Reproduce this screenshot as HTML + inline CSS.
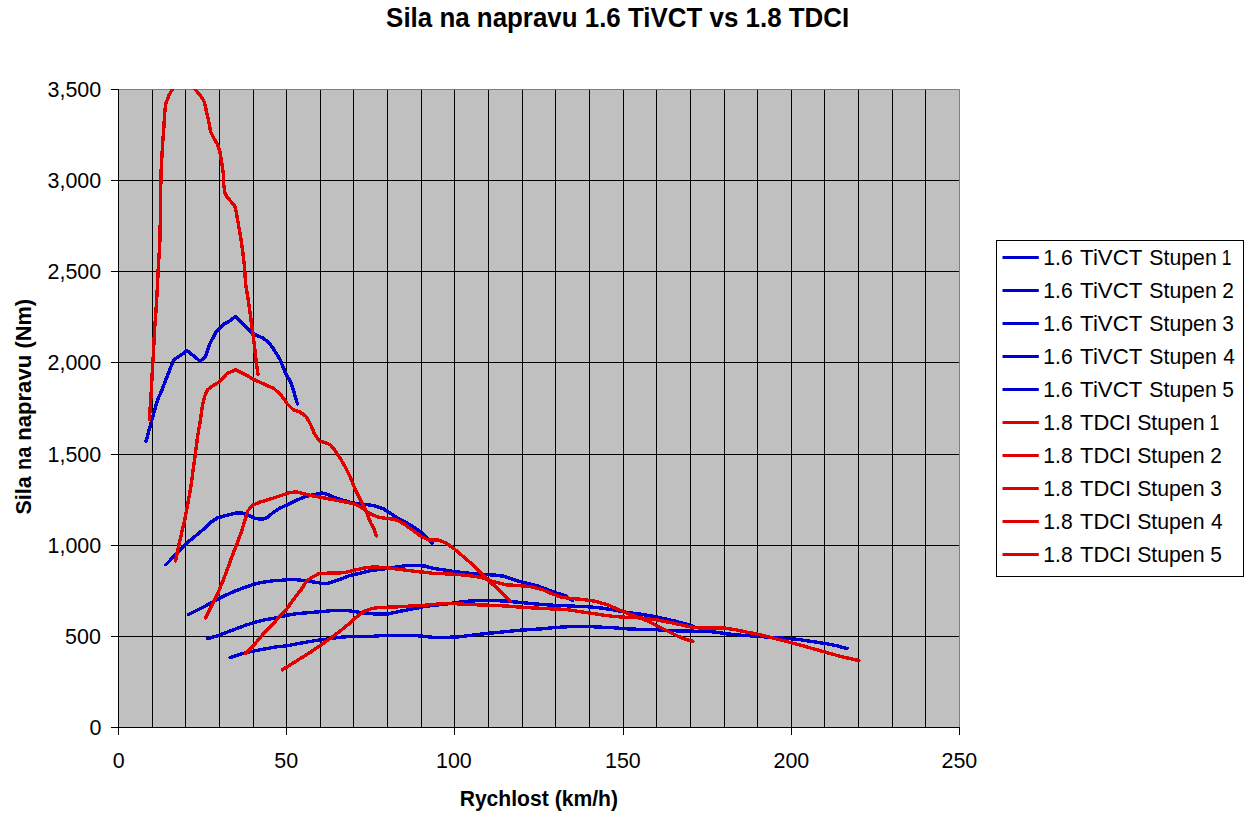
<!DOCTYPE html>
<html><head><meta charset="utf-8"><style>
html,body{margin:0;padding:0;background:#fff;}
svg{display:block;}
text{font-family:"Liberation Sans",Arial,sans-serif;fill:#000;}
</style></head><body>
<svg width="1248" height="813" viewBox="0 0 1248 813">
<rect x="118" y="89" width="841" height="638" fill="#c0c0c0"/>
<path d="M152.5 89V727M185.5 89V727M219.5 89V727M253.5 89V727M286.5 89V727M320.5 89V727M353.5 89V727M387.5 89V727M421.5 89V727M454.5 89V727M488.5 89V727M522.5 89V727M555.5 89V727M589.5 89V727M623.5 89V727M656.5 89V727M690.5 89V727M724.5 89V727M757.5 89V727M791.5 89V727M824.5 89V727M858.5 89V727M892.5 89V727M925.5 89V727M118 636.5H959M118 545.5H959M118 454.5H959M118 362.5H959M118 271.5H959M118 180.5H959" stroke="#000" stroke-width="1" fill="none"/>
<path d="M118 89.5H959.5V727" stroke="#808080" stroke-width="1" fill="none"/>
<path d="M118.5 89V735M111 727.5H960M111 727.5H119M111 636.5H119M111 545.5H119M111 454.5H119M111 362.5H119M111 271.5H119M111 180.5H119M111 89.5H119M118.5 727V735M286.5 727V735M454.5 727V735M623.5 727V735M791.5 727V735M959.5 727V735" stroke="#000" stroke-width="1" fill="none"/>
<text transform="translate(89.48 735) scale(0.9750 1.0)" font-size="22" font-weight="normal">0</text>
<text transform="translate(65.10 644) scale(0.9750 1.0)" font-size="22" font-weight="normal">500</text>
<text transform="translate(47.55 553) scale(0.9750 1.0)" font-size="22" font-weight="normal">1,000</text>
<text transform="translate(47.55 462) scale(0.9750 1.0)" font-size="22" font-weight="normal">1,500</text>
<text transform="translate(47.55 370) scale(0.9750 1.0)" font-size="22" font-weight="normal">2,000</text>
<text transform="translate(47.55 279) scale(0.9750 1.0)" font-size="22" font-weight="normal">2,500</text>
<text transform="translate(47.55 188) scale(0.9750 1.0)" font-size="22" font-weight="normal">3,000</text>
<text transform="translate(47.55 97) scale(0.9750 1.0)" font-size="22" font-weight="normal">3,500</text>
<text transform="translate(112.65 768) scale(0.9750 1.0)" font-size="22" font-weight="normal">0</text>
<text transform="translate(274.31 768) scale(0.9750 1.0)" font-size="22" font-weight="normal">50</text>
<text transform="translate(435.98 768) scale(0.9750 1.0)" font-size="22" font-weight="normal">100</text>
<text transform="translate(604.97 768) scale(0.9750 1.0)" font-size="22" font-weight="normal">150</text>
<text transform="translate(773.46 768) scale(0.9750 1.0)" font-size="22" font-weight="normal">200</text>
<text transform="translate(941.46 768) scale(0.9750 1.0)" font-size="22" font-weight="normal">250</text>
<text transform="translate(386.10 27) scale(0.9970 1.04)" font-size="26" font-weight="bold">Sila na napravu 1.6 TiVCT vs 1.8 TDCI</text>
<text transform="translate(459.64 806) scale(0.9601 1.0)" font-size="22" font-weight="bold">Rychlost (km/h)</text>
<text transform="translate(31 514.48) rotate(-90) scale(0.9789 1)" font-size="22" font-weight="bold">Sila</text>
<text transform="translate(31 469.90) rotate(-90) scale(0.9000 1)" font-size="22" font-weight="bold">na</text>
<text transform="translate(31 440.80) rotate(-90) scale(1.0048 1)" font-size="22" font-weight="bold">napravu</text>
<text transform="translate(31 348.59) rotate(-90) scale(0.9917 1)" font-size="22" font-weight="bold">(Nm)</text>
<rect x="996.5" y="240.5" width="247" height="336" fill="#fff" stroke="#000" stroke-width="1"/>
<path d="M1002.5 257.5H1038.8" stroke="#0000d0" stroke-width="3"/>
<text transform="translate(1043.28 265.0) scale(0.9607 1.0)" font-size="22" font-weight="normal">1.6</text>
<text transform="translate(1080.10 265.0) scale(1.0131 1.0)" font-size="22" font-weight="normal">TiVCT</text>
<text transform="translate(1149.33 265.0) scale(0.9672 1.0)" font-size="22" font-weight="normal">Stupen</text>
<text transform="translate(1221.70 265.0) scale(0.8000 1.0)" font-size="22" font-weight="normal">1</text>
<path d="M1002.5 290.5H1038.8" stroke="#0000d0" stroke-width="3"/>
<text transform="translate(1043.28 298.0) scale(0.9607 1.0)" font-size="22" font-weight="normal">1.6</text>
<text transform="translate(1080.10 298.0) scale(1.0131 1.0)" font-size="22" font-weight="normal">TiVCT</text>
<text transform="translate(1149.33 298.0) scale(0.9672 1.0)" font-size="22" font-weight="normal">Stupen</text>
<text transform="translate(1222.35 298.0) scale(0.9500 1.0)" font-size="22" font-weight="normal">2</text>
<path d="M1002.5 323.5H1038.8" stroke="#0000d0" stroke-width="3"/>
<text transform="translate(1043.28 330.9) scale(0.9607 1.0)" font-size="22" font-weight="normal">1.6</text>
<text transform="translate(1080.10 330.9) scale(1.0131 1.0)" font-size="22" font-weight="normal">TiVCT</text>
<text transform="translate(1149.33 330.9) scale(0.9672 1.0)" font-size="22" font-weight="normal">Stupen</text>
<text transform="translate(1222.35 330.9) scale(0.9500 1.0)" font-size="22" font-weight="normal">3</text>
<path d="M1002.5 356.5H1038.8" stroke="#0000d0" stroke-width="3"/>
<text transform="translate(1043.28 363.9) scale(0.9607 1.0)" font-size="22" font-weight="normal">1.6</text>
<text transform="translate(1080.10 363.9) scale(1.0131 1.0)" font-size="22" font-weight="normal">TiVCT</text>
<text transform="translate(1149.33 363.9) scale(0.9672 1.0)" font-size="22" font-weight="normal">Stupen</text>
<text transform="translate(1223.30 363.9) scale(0.9500 1.0)" font-size="22" font-weight="normal">4</text>
<path d="M1002.5 389.5H1038.8" stroke="#0000d0" stroke-width="3"/>
<text transform="translate(1043.28 396.8) scale(0.9607 1.0)" font-size="22" font-weight="normal">1.6</text>
<text transform="translate(1080.10 396.8) scale(1.0131 1.0)" font-size="22" font-weight="normal">TiVCT</text>
<text transform="translate(1149.33 396.8) scale(0.9672 1.0)" font-size="22" font-weight="normal">Stupen</text>
<text transform="translate(1222.35 396.8) scale(0.9500 1.0)" font-size="22" font-weight="normal">5</text>
<path d="M1002.5 422.5H1038.8" stroke="#e00000" stroke-width="3"/>
<text transform="translate(1043.28 429.8) scale(0.9607 1.0)" font-size="22" font-weight="normal">1.8</text>
<text transform="translate(1080.10 429.8) scale(0.9959 1.0)" font-size="22" font-weight="normal">TDCI</text>
<text transform="translate(1137.13 429.8) scale(0.9672 1.0)" font-size="22" font-weight="normal">Stupen</text>
<text transform="translate(1209.50 429.8) scale(0.8000 1.0)" font-size="22" font-weight="normal">1</text>
<path d="M1002.5 455.5H1038.8" stroke="#e00000" stroke-width="3"/>
<text transform="translate(1043.28 462.8) scale(0.9607 1.0)" font-size="22" font-weight="normal">1.8</text>
<text transform="translate(1080.10 462.8) scale(0.9959 1.0)" font-size="22" font-weight="normal">TDCI</text>
<text transform="translate(1137.13 462.8) scale(0.9672 1.0)" font-size="22" font-weight="normal">Stupen</text>
<text transform="translate(1210.15 462.8) scale(0.9500 1.0)" font-size="22" font-weight="normal">2</text>
<path d="M1002.5 488.5H1038.8" stroke="#e00000" stroke-width="3"/>
<text transform="translate(1043.28 495.7) scale(0.9607 1.0)" font-size="22" font-weight="normal">1.8</text>
<text transform="translate(1080.10 495.7) scale(0.9959 1.0)" font-size="22" font-weight="normal">TDCI</text>
<text transform="translate(1137.13 495.7) scale(0.9672 1.0)" font-size="22" font-weight="normal">Stupen</text>
<text transform="translate(1210.15 495.7) scale(0.9500 1.0)" font-size="22" font-weight="normal">3</text>
<path d="M1002.5 521.5H1038.8" stroke="#e00000" stroke-width="3"/>
<text transform="translate(1043.28 528.7) scale(0.9607 1.0)" font-size="22" font-weight="normal">1.8</text>
<text transform="translate(1080.10 528.7) scale(0.9959 1.0)" font-size="22" font-weight="normal">TDCI</text>
<text transform="translate(1137.13 528.7) scale(0.9672 1.0)" font-size="22" font-weight="normal">Stupen</text>
<text transform="translate(1211.10 528.7) scale(0.9500 1.0)" font-size="22" font-weight="normal">4</text>
<path d="M1002.5 554.5H1038.8" stroke="#e00000" stroke-width="3"/>
<text transform="translate(1043.28 561.6) scale(0.9607 1.0)" font-size="22" font-weight="normal">1.8</text>
<text transform="translate(1080.10 561.6) scale(0.9959 1.0)" font-size="22" font-weight="normal">TDCI</text>
<text transform="translate(1137.13 561.6) scale(0.9672 1.0)" font-size="22" font-weight="normal">Stupen</text>
<text transform="translate(1210.15 561.6) scale(0.9500 1.0)" font-size="22" font-weight="normal">5</text>
<clipPath id="pc"><rect x="118" y="89" width="841" height="638"/></clipPath><g clip-path="url(#pc)">
<path d="M146.0 441.4 L149.7 427.9 L153.4 414.3 L157.7 399.6 L162.0 389.8 L165.7 380.0 L169.3 371.0 L173.6 359.9 L179.2 356.2 L187.2 350.7 L193.9 356.2 L200.1 361.2 L205.0 357.5 L209.9 343.9 L216.1 331.6 L223.4 324.3 L228.4 321.8 L235.7 316.3 L241.9 323.0 L250.5 331.6 L256.6 335.3 L262.8 338.0 L268.8 342.6 L272.5 347.5 L276.0 353.0 L279.9 359.3 L286.1 374.3 L290.4 381.6 L293.4 390.2 L297.4 403.8" stroke="#0000d0" stroke-width="3.4" fill="none" stroke-linejoin="round" stroke-linecap="round" shape-rendering="crispEdges"/>
<path d="M165.9 564.7 L173.0 557.3 L181.6 548.7 L189.0 541.3 L196.4 535.2 L203.8 529.0 L209.9 522.9 L217.3 518.0 L225.9 515.5 L235.7 513.0 L241.9 513.0 L249.3 515.5 L255.4 518.6 L262.8 519.2 L267.7 517.3 L272.6 513.0 L280.0 508.1 L289.8 503.7 L297.1 500.0 L304.5 496.9 L311.9 495.1 L321.7 492.9 L327.9 494.5 L334.0 497.5 L343.9 500.6 L353.7 503.1 L363.5 504.3 L373.4 505.5 L383.2 508.6 L390.6 513.5 L398.0 518.4 L405.3 522.1 L410.2 524.9 L417.6 529.8 L420.0 531.4 L426.1 536.9 L432.3 543.0" stroke="#0000d0" stroke-width="3.4" fill="none" stroke-linejoin="round" stroke-linecap="round" shape-rendering="crispEdges"/>
<path d="M188.4 614.6 L196.4 610.5 L206.2 605.6 L216.1 600.0 L225.9 595.1 L235.7 590.8 L245.6 587.1 L254.2 584.1 L262.8 582.2 L271.4 581.0 L278.0 580.2 L282.4 580.2 L291.0 579.3 L299.6 580.0 L307.0 581.1 L314.3 582.1 L321.7 583.3 L327.9 583.3 L334.0 581.5 L341.4 578.8 L348.8 575.9 L356.1 574.1 L363.5 572.3 L372.1 570.4 L382.0 569.2 L390.6 568.0 L398.0 566.7 L405.3 565.7 L413.9 565.2 L420.1 565.7 L425.0 566.1 L432.3 568.2 L444.6 570.1 L456.9 571.9 L469.2 573.2 L481.5 574.4 L493.8 575.0 L503.6 576.2 L511.0 578.7 L518.4 581.2 L528.2 583.6 L538.0 586.1 L547.9 589.8 L557.7 593.4 L565.0 595.5 L572.4 600.7" stroke="#0000d0" stroke-width="3.4" fill="none" stroke-linejoin="round" stroke-linecap="round" shape-rendering="crispEdges"/>
<path d="M207.7 638.5 L216.1 636.3 L225.9 632.6 L235.7 628.9 L245.6 625.2 L255.4 622.2 L265.3 619.7 L276.3 617.9 L282.4 616.2 L293.4 614.1 L305.7 612.9 L318.0 611.9 L330.3 610.8 L338.9 610.2 L348.8 610.8 L358.6 612.2 L368.4 613.5 L379.5 614.2 L388.1 614.0 L398.0 611.7 L407.8 609.8 L417.6 608.0 L425.0 606.3 L432.3 605.5 L444.6 604.3 L456.9 602.4 L469.2 601.1 L481.5 600.5 L493.8 600.5 L506.1 601.1 L518.4 602.3 L530.7 603.5 L543.0 604.5 L555.2 605.4 L565.0 605.7 L577.3 606.3 L589.6 606.9 L601.9 608.1 L614.2 610.0 L626.5 612.4 L640.0 614.0 L656.3 616.9 L673.7 620.8 L685.2 623.7 L693.8 626.5" stroke="#0000d0" stroke-width="3.4" fill="none" stroke-linejoin="round" stroke-linecap="round" shape-rendering="crispEdges"/>
<path d="M230.2 657.5 L240.7 654.1 L250.5 651.7 L260.3 649.8 L270.2 648.0 L278.0 646.5 L284.8 646.1 L294.7 644.3 L304.5 642.4 L315.6 640.6 L326.6 639.1 L336.5 637.7 L348.8 636.5 L361.1 636.3 L373.4 636.3 L383.2 635.4 L393.0 635.4 L405.3 635.4 L416.4 635.7 L425.0 636.4 L432.3 637.3 L444.6 637.3 L456.9 637.1 L469.2 635.5 L481.5 634.0 L493.8 632.8 L506.1 631.6 L518.4 630.3 L530.7 629.6 L543.0 628.7 L555.2 627.5 L567.0 626.8 L589.6 626.6 L601.9 627.2 L614.2 627.8 L626.5 628.8 L640.0 629.4 L656.3 629.6 L664.0 630.4 L678.5 630.9 L693.8 631.2 L707.3 631.3 L716.9 632.3 L726.5 633.8 L741.0 635.2 L759.6 636.5 L774.0 637.5 L788.5 638.5 L798.1 639.4 L807.7 640.9 L817.3 642.3 L826.9 643.8 L836.5 645.7 L847.1 648.6" stroke="#0000d0" stroke-width="3.4" fill="none" stroke-linejoin="round" stroke-linecap="round" shape-rendering="crispEdges"/>
<path d="M149.4 419.3 L150.3 405.7 L151.5 387.3 L152.1 375.0 L153.4 353.8 L154.6 329.2 L156.4 304.6 L157.5 285.0 L158.4 264.9 L159.7 246.5 L160.3 221.9 L160.7 189.0 L161.2 169.0 L162.1 153.0 L162.8 140.7 L164.0 125.9 L164.6 113.6 L165.8 103.8 L168.9 95.2 L172.6 89.0 L178.0 80.0 L184.0 70.0 L190.0 80.0 L194.7 89.0 L200.3 95.2 L204.0 101.3 L206.4 111.1 L208.9 122.2 L210.7 132.0 L213.8 138.2 L217.5 144.4 L219.9 151.7 L221.8 162.8 L223.6 175.1 L223.8 185.0 L224.8 192.4 L227.3 197.3 L231.0 201.6 L234.7 205.9 L236.5 213.3 L238.4 224.3 L240.8 237.9 L242.7 251.4 L244.3 264.9 L245.7 285.0 L248.0 298.4 L251.1 320.6 L253.6 339.0 L256.0 359.9 L257.9 374.1" stroke="#e00000" stroke-width="3.4" fill="none" stroke-linejoin="round" stroke-linecap="round" shape-rendering="crispEdges"/>
<path d="M175.7 561.0 L177.5 551.0 L180.3 539.0 L182.5 529.0 L184.6 520.6 L186.5 510.5 L188.3 500.9 L190.2 490.5 L191.8 480.0 L193.6 466.0 L195.2 454.9 L197.6 436.5 L200.1 421.7 L202.5 405.7 L204.4 397.1 L207.5 389.8 L212.4 386.1 L218.5 382.4 L222.0 379.0 L227.1 373.4 L235.7 369.8 L243.1 373.4 L253.0 379.0 L262.8 383.6 L273.9 388.5 L281.1 395.2 L287.3 403.8 L293.4 409.9 L299.6 411.8 L305.7 416.1 L309.4 422.2 L313.1 430.0 L314.3 433.6 L319.3 441.0 L325.4 442.8 L330.3 444.7 L335.2 450.8 L340.2 458.2 L345.1 466.8 L350.0 476.6 L354.9 488.9 L361.1 501.2 L366.0 511.1 L370.9 523.4 L373.4 527.4 L376.4 536.0" stroke="#e00000" stroke-width="3.4" fill="none" stroke-linejoin="round" stroke-linecap="round" shape-rendering="crispEdges"/>
<path d="M205.6 617.9 L211.2 606.8 L217.3 594.5 L223.4 579.8 L229.0 565.0 L232.1 556.1 L237.0 543.8 L241.9 530.2 L245.6 518.0 L248.0 510.6 L253.0 505.0 L260.3 502.0 L268.9 499.5 L275.0 497.5 L282.4 495.1 L289.8 492.4 L297.1 492.0 L304.5 493.9 L311.9 495.7 L321.7 497.5 L331.6 499.4 L341.4 501.2 L353.7 503.7 L361.1 507.4 L369.7 513.5 L378.3 517.2 L385.7 518.4 L393.0 519.1 L398.0 520.6 L405.3 524.9 L413.9 531.1 L420.0 535.7 L428.6 540.0 L438.4 540.0 L445.8 543.0 L453.2 548.0 L461.8 555.3 L470.4 562.7 L479.0 571.3 L487.6 579.9 L496.2 587.3 L503.6 594.9 L510.4 601.1" stroke="#e00000" stroke-width="3.4" fill="none" stroke-linejoin="round" stroke-linecap="round" shape-rendering="crispEdges"/>
<path d="M245.6 653.5 L253.6 645.5 L261.2 636.3 L266.9 630.0 L275.7 620.9 L286.6 609.1 L294.4 598.2 L301.3 589.4 L306.3 581.5 L311.2 577.6 L319.1 573.6 L328.9 573.1 L338.0 573.1 L346.3 572.3 L356.1 569.8 L366.0 567.7 L373.4 567.0 L382.0 567.3 L390.6 568.2 L398.0 569.2 L407.8 570.4 L416.4 571.6 L425.0 572.3 L432.3 573.2 L444.6 573.8 L456.9 574.4 L469.2 575.6 L481.5 577.5 L493.8 581.8 L506.1 584.8 L518.4 585.5 L530.7 586.7 L543.0 589.8 L552.8 594.1 L561.4 597.1 L570.0 598.4 L583.4 599.5 L595.7 601.4 L608.0 605.0 L617.9 609.3 L626.5 613.0 L636.3 616.7 L646.2 620.4 L656.0 625.3 L665.8 630.2 L675.7 635.2 L684.3 638.9 L692.9 641.3" stroke="#e00000" stroke-width="3.4" fill="none" stroke-linejoin="round" stroke-linecap="round" shape-rendering="crispEdges"/>
<path d="M282.4 669.8 L289.8 665.2 L299.6 659.0 L309.4 652.9 L319.3 646.1 L329.1 639.3 L338.9 632.0 L348.8 624.0 L356.1 617.2 L363.5 611.7 L372.1 608.4 L380.7 607.4 L393.0 607.1 L405.3 606.4 L417.6 605.5 L425.0 605.2 L432.3 604.5 L444.6 603.5 L456.9 603.8 L469.2 604.5 L481.5 605.0 L493.8 605.4 L506.1 606.0 L518.4 607.0 L530.7 607.8 L543.0 608.4 L555.2 609.1 L565.0 609.3 L577.3 611.2 L589.6 613.0 L601.9 614.9 L614.2 616.5 L626.5 617.3 L640.0 617.9 L656.3 619.8 L673.7 623.2 L691.0 627.0 L699.6 628.0 L712.1 628.0 L724.6 628.0 L736.2 629.9 L747.7 632.3 L759.6 634.6 L769.2 637.0 L778.8 639.4 L791.5 642.8 L802.9 645.7 L812.5 648.6 L824.5 651.9 L836.5 655.3 L846.2 657.7 L859.1 660.6" stroke="#e00000" stroke-width="3.4" fill="none" stroke-linejoin="round" stroke-linecap="round" shape-rendering="crispEdges"/>
</g>
</svg>
</body></html>
